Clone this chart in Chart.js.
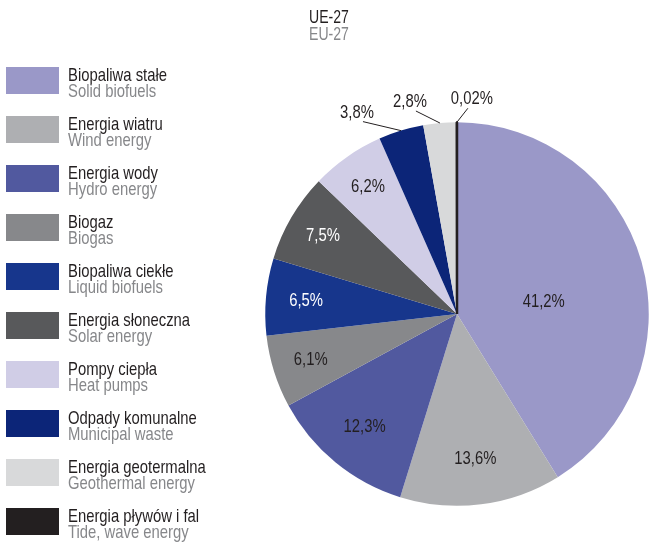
<!DOCTYPE html>
<html>
<head>
<meta charset="utf-8">
<script src="https://cdn.jsdelivr.net/npm/chart.js@4"></script>
<style>
  html, body { margin: 0; padding: 0; background: #fff; }
  #wrap { position: relative; width: 654px; height: 544px; }
</style>
</head>
<body>
<div id="wrap"><canvas id="pie" width="654" height="544"></canvas></div>
<script>
// ── Data ──
const labelsPl = ['Biopaliwa stałe', 'Energia wiatru', 'Energia wody', 'Biogaz', 'Biopaliwa ciekłe',
  'Energia słoneczna', 'Pompy ciepła', 'Odpady komunalne', 'Energia geotermalna', 'Energia pływów i fal'];
const labelsEn = ['Solid biofuels', 'Wind energy', 'Hydro energy', 'Biogas', 'Liquid biofuels',
  'Solar energy', 'Heat pumps', 'Municipal waste', 'Geothermal energy', 'Tide, wave energy'];
const shares = [41.2, 13.6, 12.3, 6.1, 6.5, 7.5, 6.2, 3.8, 2.8, 0.02];
const shareText = ['41,2%', '13,6%', '12,3%', '6,1%', '6,5%', '7,5%', '6,2%', '3,8%', '2,8%', '0,02%'];
const colors = ['#9a98c8', '#aeafb2', '#51599f', '#87888b', '#17368c',
  '#58595b', '#d0cde6', '#0c2578', '#d8d9da', '#231f20'];

const FONT = '"Liberation Sans", Arial, sans-serif';
const DARK = '#231f20';
const GREY = '#86878a';

// label styling: inside (fraction of radius) or outside (offset from rim)
const labelStyle = [
  { f: 0.47, dy: 12 }, { f: 0.76 }, { f: 0.76 }, { f: 0.8 }, { f: 0.79, white: true },
  { f: 0.81, white: true }, { f: 0.81 },
  { out: [-44, -18] }, { out: [-30, -21] }, { out: [15, -23] }
];

// condensed look: squeeze text horizontally
let SQ = 0.8;
function text(ctx, t, x, y) {
  ctx.save();
  ctx.translate(x, y);
  ctx.scale(SQ, 1);
  ctx.fillText(t, 0, 0);
  ctx.restore();
}

// ── Title + legend + slice labels ──
const decor = {
  id: 'decor',
  afterDraw(chart) {
    const ctx = chart.ctx;
    ctx.save();
    ctx.font = '19px ' + FONT;
    SQ = 99 / ctx.measureText('Biopaliwa stałe').width;
    ctx.textBaseline = 'alphabetic';
    ctx.textAlign = 'left';
    ctx.font = '18px ' + FONT;
    ctx.fillStyle = DARK;
    text(ctx, 'UE-27', 309, 23);
    ctx.fillStyle = GREY;
    text(ctx, 'EU-27', 309, 40);

    // legend
    labelsPl.forEach((t, i) => {
      const y = 67 + 49 * i;
      ctx.fillStyle = colors[i];
      ctx.fillRect(6, y, 53, 27);
      ctx.font = '19px ' + FONT;
      ctx.fillStyle = DARK;
      text(ctx, t, 68, y + 14);
      ctx.fillStyle = GREY;
      text(ctx, labelsEn[i], 68, y + 30);
    });

    // slice labels
    const meta = chart.getDatasetMeta(0);
    ctx.font = '19px ' + FONT;
    ctx.textAlign = 'center';
    ctx.textBaseline = 'middle';
    meta.data.forEach((arc, i) => {
      const p = arc.getProps(['x', 'y', 'startAngle', 'endAngle', 'outerRadius'], true);
      const mid = (p.startAngle + p.endAngle) / 2;
      const s = labelStyle[i];
      if (s.out) {
        const ex = p.x + Math.cos(mid) * p.outerRadius;
        const ey = p.y + Math.sin(mid) * p.outerRadius;
        const lx = ex + s.out[0];
        const ly = ey + s.out[1];
        ctx.strokeStyle = DARK;
        ctx.lineWidth = 1;
        ctx.beginPath();
        const sx = lx + (s.out[0] < 0 ? 6 : -4);
        ctx.moveTo(sx, ly + 9);
        ctx.lineTo(ex, ey);
        ctx.stroke();
        ctx.fillStyle = DARK;
        text(ctx, shareText[i], lx, ly);
      } else {
        const r = p.outerRadius * s.f;
        ctx.fillStyle = s.white ? '#ffffff' : DARK;
        text(ctx, shareText[i], p.x + Math.cos(mid) * r, p.y + Math.sin(mid) * r + (s.dy || 0));
      }
    });
    ctx.restore();
  }
};

new Chart(document.getElementById('pie'), {
  type: 'pie',
  data: {
    labels: labelsPl,
    datasets: [{
      data: shares,
      backgroundColor: colors,
      borderColor: colors.map((c, i) => i === colors.length - 1 ? DARK : c),
      borderWidth: shares.map((v, i) => i === shares.length - 1 ? 2.5 : 0),
      hoverOffset: 0
    }]
  },
  options: {
    responsive: false,
    animation: false,
    layout: { padding: { left: 264, right: 4, top: 121, bottom: 37 } },
    plugins: { legend: { display: false }, tooltip: { enabled: false }, title: { display: false } }
  },
  plugins: [decor]
});
</script>
</body>
</html>
